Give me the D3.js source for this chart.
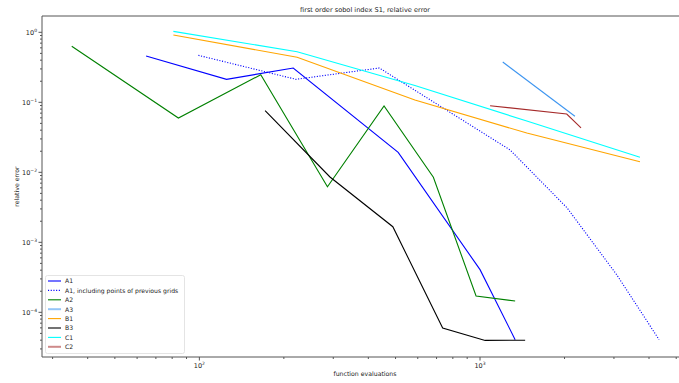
<!DOCTYPE html>
<html>
<head>
<meta charset="utf-8">
<script src="https://cdn.jsdelivr.net/npm/d3@7"></script>
<style>
  body { margin: 0; background: #fff; }
  svg { font-family: "DejaVu Sans", sans-serif; }
</style>
</head>
<body>
<div id="viz"></div>
<script>
// values (function evaluations, relative error)
const a1X = [64.6, 125, 216, 511, 1000, 1334];
const a1Y = [0.458, 0.213, 0.309, 0.0193, 4.07e-4, 4.07e-5];
const a1pX = [99.2, 221, 438, 1279, 2043, 3076, 4345];
const a1pY = [0.469, 0.213, 0.309, 0.0209, 0.0031, 3.4e-4, 4.07e-5];
const a2X = [35.1, 84.2, 165.5, 286, 455, 682, 968, 1334];
const a2Y = [0.631, 0.0597, 0.248, 0.00622, 0.0885, 0.0085, 1.71e-4, 1.45e-4];
const a3X = [1205, 2178];
const a3Y = [0.376, 0.0631];
const b1X = [80.8, 223, 586, 1468, 3714];
const b1Y = [0.915, 0.44, 0.108, 0.0364, 0.01417];
const b3X = [171.5, 292, 489, 736, 1043, 1448];
const b3Y = [0.0759, 0.00857, 0.00167, 5.97e-5, 3.97e-5, 4.0e-5];
const c1X = [80.8, 223, 586, 1468, 3714];
const c1Y = [1.03, 0.528, 0.174, 0.054, 0.0164];
const c2X = [1086, 2037, 2290];
const c2Y = [0.0894, 0.068, 0.043];

const labels = ["A1", "A1, including points of previous grids", "A2", "A3", "B1", "B3", "C1", "C2"];
const colors = ["#0000ff", "#0000ff", "#008000", "#3d95f0", "#ffa500", "#000000", "#00ffff", "#a52a2a"];
const xs = [a1X, a1pX, a2X, a3X, b1X, b3X, c1X, c2X];
const ys = [a1Y, a1pY, a2Y, a3Y, b1Y, b3Y, c1Y, c2Y];

const xTicks = [100, 1000];
const yTicks = [1, 0.1, 0.01, 0.001, 0.0001];
const yExp = ["0", "\u22121", "\u22122", "\u22123", "\u22124"];
const xExp = ["2", "3"];

const fullWidth = 679;
const fullHeight = 383;
const margin = { top: 16, left: 42, right: -9, bottom: 26 };

const svg = d3.select("#viz").append("svg")
  .attr("width", fullWidth)
  .attr("height", fullHeight);

const xScale = d3.scaleLog()
  .domain([27.5, 5508])
  .range([margin.left, fullWidth - margin.right]);
const yScale = d3.scaleLog()
  .domain([2.3e-5, 1.71])
  .range([fullHeight - margin.bottom, margin.top]);

const x0 = margin.left, x1 = fullWidth - margin.right;
const y0 = fullHeight - margin.bottom, y1 = margin.top;

// lines
const line = d3.line()
  .x(d => xScale(d[0]))
  .y(d => yScale(d[1]));

svg.append("clipPath").attr("id", "clip")
  .append("rect").attr("x", x0).attr("y", y1).attr("width", x1 - x0).attr("height", y0 - y1);

const plot = svg.append("g").attr("clip-path", "url(#clip)");
xs.forEach((xv, i) => {
  plot.append("path")
    .datum(xv.map((x, j) => [x, ys[i][j]]))
    .attr("fill", "none")
    .attr("stroke", colors[i])
    .attr("stroke-width", 1.1)
    .attr("stroke-dasharray", i === 1 ? "1.1,1.6" : null)
    .attr("d", line);
});

// axes frame
const frame = svg.append("g").attr("stroke", "#555").attr("stroke-width", 1);
frame.append("line").attr("x1", x0).attr("x2", x0).attr("y1", y1).attr("y2", y0);
frame.append("line").attr("x1", x0).attr("x2", x1).attr("y1", y0).attr("y2", y0);
frame.append("line").attr("x1", x0).attr("x2", x1).attr("y1", y1).attr("y2", y1);

// minor ticks
const xMinor = [];
[10, 100, 1000].forEach(d => { for (let k = 2; k <= 9; k++) xMinor.push(d * k); });
xMinor.filter(v => v > 27.5 && v < 5508).forEach(v => {
  frame.append("line").attr("x1", xScale(v)).attr("x2", xScale(v))
    .attr("y1", y0).attr("y2", y0 + 2);
});
const yMinor = [];
[1e-5, 1e-4, 1e-3, 1e-2, 1e-1, 1].forEach(d => { for (let k = 2; k <= 9; k++) yMinor.push(d * k); });
yMinor.filter(v => v > 2.3e-5 && v < 1.71).forEach(v => {
  frame.append("line").attr("x1", x0 - 2).attr("x2", x0)
    .attr("y1", yScale(v)).attr("y2", yScale(v));
});

// major ticks and labels
xTicks.forEach((v, i) => {
  frame.append("line").attr("x1", xScale(v)).attr("x2", xScale(v))
    .attr("y1", y0).attr("y2", y0 + 3.5);
  const t = svg.append("text")
    .attr("x", xScale(v)).attr("y", y0 + 11)
    .attr("text-anchor", "middle")
    .attr("font-size", 6.5).attr("fill", "#222");
  t.append("tspan").text("10");
  t.append("tspan").attr("font-size", 4.5).attr("dy", -3).text(xExp[i]);
});
yTicks.forEach((v, i) => {
  frame.append("line").attr("x1", x0 - 3.5).attr("x2", x0)
    .attr("y1", yScale(v)).attr("y2", yScale(v));
  const t = svg.append("text")
    .attr("x", x0 - 5).attr("y", yScale(v) + 2.5)
    .attr("text-anchor", "end")
    .attr("font-size", 6.5).attr("fill", "#222");
  t.append("tspan").text("10");
  t.append("tspan").attr("font-size", 4.5).attr("dy", -3).text(yExp[i]);
});

// titles
svg.append("text")
  .attr("x", (x0 + x1) / 2).attr("y", 12)
  .attr("text-anchor", "middle")
  .attr("font-size", 6.6).attr("fill", "#222")
  .text("first order sobol index S1, relative error");
svg.append("text")
  .attr("x", (x0 + x1) / 2).attr("y", 376)
  .attr("text-anchor", "middle")
  .attr("font-size", 6.2).attr("fill", "#222")
  .text("function evaluations");
svg.append("text")
  .attr("transform", "translate(19," + ((y0 + y1) / 2) + ") rotate(-90)")
  .attr("text-anchor", "middle")
  .attr("font-size", 6.2).attr("fill", "#222")
  .text("relative error");

// legend
const legend = svg.append("g");
legend.append("rect")
  .attr("x", 45.5).attr("y", 275.5)
  .attr("width", 139).attr("height", 78)
  .attr("rx", 2)
  .attr("fill", "#fff").attr("fill-opacity", 0.8)
  .attr("stroke", "#ddd").attr("stroke-width", 0.8);
const heavy = [0, 3, 5, 7];
labels.forEach((lab, i) => {
  const yy = 281 + i * 9.4;
  legend.append("line")
    .attr("x1", 48).attr("x2", 61).attr("y1", yy).attr("y2", yy)
    .attr("stroke", colors[i])
    .attr("stroke-width", heavy.includes(i) ? 2 : 1.1)
    .attr("stroke-opacity", heavy.includes(i) ? 0.55 : 1)
    .attr("stroke-dasharray", i === 1 ? "1.1,1.6" : null);
  legend.append("text")
    .attr("x", 65).attr("y", yy + 2.3)
    .attr("font-size", 6.1).attr("fill", "#222")
    .text(lab);
});
</script>
</body>
</html>
